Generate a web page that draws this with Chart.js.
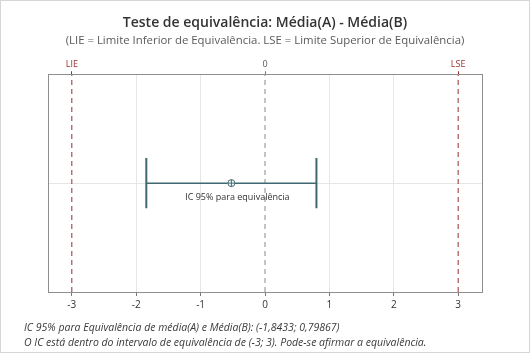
<!DOCTYPE html>
<html>
<head>
<meta charset="utf-8">
<script src="https://cdn.jsdelivr.net/npm/chart.js@4.4.1/dist/chart.umd.min.js"></script>
<style>
  html, body { margin: 0; padding: 0; background: #fff; }
  #wrap { position: relative; width: 530px; height: 353px; overflow: hidden; }
  #frame { position: absolute; left: 0; top: 0; width: 530px; height: 353px; box-sizing: border-box; border: 1px solid #d6d6d6; pointer-events: none; }
  .note { position: absolute; left: 24px; font-family: "Open Sans", "Noto Sans", sans-serif; font-style: italic; font-size: 10.5px; color: #3a3a3a; white-space: nowrap; }
</style>
</head>
<body>
<div id="wrap">
  <canvas id="c" width="530" height="353"></canvas>
  <div class="note" id="n1" style="top:320px;"></div>
  <div class="note" id="n2" style="top:335px;"></div>
  <div id="frame"></div>
</div>
<script>
// ---- data ----
const ciLower = -1.8433;
const ciUpper = 0.79867;
const estimate = (ciLower + ciUpper) / 2;
const equivLower = -3;
const equivUpper = 3;
const xTicks = [-3, -2, -1, 0, 1, 2, 3];
const topTickValues = [-3, 0, 3];
const topTickLabels = ['LIE', '0', 'LSE'];
const ciLabel = 'IC 95% para equivalência';
const titleText = 'Teste de equivalência: Média(A) - Média(B)';
const subtitleText = '(LIE = Limite Inferior de Equivalência. LSE = Limite Superior de Equivalência)';
const note1 = 'IC 95% para Equivalência de média(A) e Média(B): (-1,8433; 0,79867)';
const note2 = 'O IC está dentro do intervalo de equivalência de (-3; 3). Pode-se afirmar a equivalência.';

document.getElementById('n1').textContent = note1;
document.getElementById('n2').textContent = note2;

const FONT = '"Open Sans", "Noto Sans", sans-serif';
const ciColor = '#3f6870';
const limColor = '#9a2e2e';
const zeroColor = '#8a8a8a';
const yMid = 0.5, capLo = 0.385, capHi = 0.615;

const boxPlugin = {
  id: 'box',
  afterDatasetsDraw(chart) {
    const { ctx, chartArea: a } = chart;
    ctx.save();
    ctx.strokeStyle = '#8e8e8e';
    ctx.lineWidth = 1;
    ctx.strokeRect(Math.round(a.left) + 0.5, Math.round(a.top) + 0.5, Math.round(a.right - a.left), Math.round(a.bottom - a.top));
    // CI label
    const xs = chart.scales.x, ys = chart.scales.y;
    ctx.fillStyle = '#333';
    ctx.font = '9px ' + FONT;
    ctx.textAlign = 'center';
    ctx.textBaseline = 'middle';
    ctx.fillText(ciLabel, xs.getPixelForValue(estimate) + 6, ys.getPixelForValue(yMid) + 14);
    ctx.restore();
  }
};

const lineDs = (data, color, width, dash) => ({
  type: 'line', data, borderColor: color, borderWidth: width, borderDash: dash || [],
  pointRadius: 0, fill: false, tension: 0, xAxisID: 'x', yAxisID: 'y'
});

new Chart(document.getElementById('c'), {
  type: 'scatter',
  data: {
    datasets: [
      { data: [{x: estimate, y: yMid}], pointStyle: 'cross', pointRadius: 3.5, borderColor: ciColor, borderWidth: 1 },
      { data: [{x: estimate, y: yMid}], pointStyle: 'circle', pointRadius: 3.5, borderColor: ciColor, backgroundColor: '#ffffff', borderWidth: 1 },
      lineDs([{x: ciLower, y: yMid}, {x: ciUpper, y: yMid}], ciColor, 1.5),
      lineDs([{x: ciLower, y: capLo}, {x: ciLower, y: capHi}], ciColor, 2),
      lineDs([{x: ciUpper, y: capLo}, {x: ciUpper, y: capHi}], ciColor, 2),
      lineDs([{x: equivLower, y: 0}, {x: equivLower, y: 1}], limColor, 1, [5, 4]),
      lineDs([{x: equivUpper, y: 0}, {x: equivUpper, y: 1}], limColor, 1, [5, 4]),
      lineDs([{x: 0, y: 0}, {x: 0, y: 1}], zeroColor, 1, [5, 4])
    ]
  },
  options: {
    responsive: false,
    animation: false,
    events: [],
    layout: { padding: { left: 48, right: 48, top: 0, bottom: 39 } },
    plugins: {
      legend: { display: false },
      tooltip: { enabled: false },
      title: { display: true, text: titleText, color: '#333', font: { family: FONT, size: 14, weight: '600' }, padding: { top: 15, bottom: 2 } },
      subtitle: { display: true, text: subtitleText, color: '#5a5a5a', font: { family: FONT, size: 11.4 }, padding: { top: 0, bottom: 11 } }
    },
    scales: {
      x: {
        type: 'linear', position: 'bottom', min: -3.37, max: 3.37,
        afterBuildTicks: s => { s.ticks = xTicks.map(v => ({ value: v })); },
        ticks: { color: '#333', font: { family: FONT, size: 10 }, padding: 3, maxRotation: 0, callback: v => String(v) },
        grid: {
          color: c => (c.tick && (c.tick.value === -3 || c.tick.value === 0 || c.tick.value === 3)) ? 'rgba(0,0,0,0)' : '#e6e6e6',
          tickColor: '#777', tickLength: 4, drawOnChartArea: true
        },
        border: { display: false }
      },
      x2: {
        type: 'linear', position: 'top', min: -3.37, max: 3.37,
        afterBuildTicks: s => { s.ticks = topTickValues.map(v => ({ value: v })); },
        ticks: {
          font: { family: FONT, size: 9 }, padding: 1, maxRotation: 0,
          color: c => (c.tick && c.tick.value === 0) ? '#555' : limColor,
          callback: (v) => topTickLabels[topTickValues.indexOf(v)]
        },
        grid: {
          drawOnChartArea: false, tickLength: 3,
          tickColor: c => (c.tick && c.tick.value === 0) ? '#777' : limColor
        },
        border: { display: false }
      },
      y: {
        type: 'linear', min: 0, max: 1, display: true,
        afterBuildTicks: s => { s.ticks = [{ value: 0.5 }]; },
        ticks: { display: false },
        grid: { color: '#e6e6e6', drawTicks: false },
        border: { display: false }
      }
    }
  },
  plugins: [boxPlugin]
});
</script>
</body>
</html>
